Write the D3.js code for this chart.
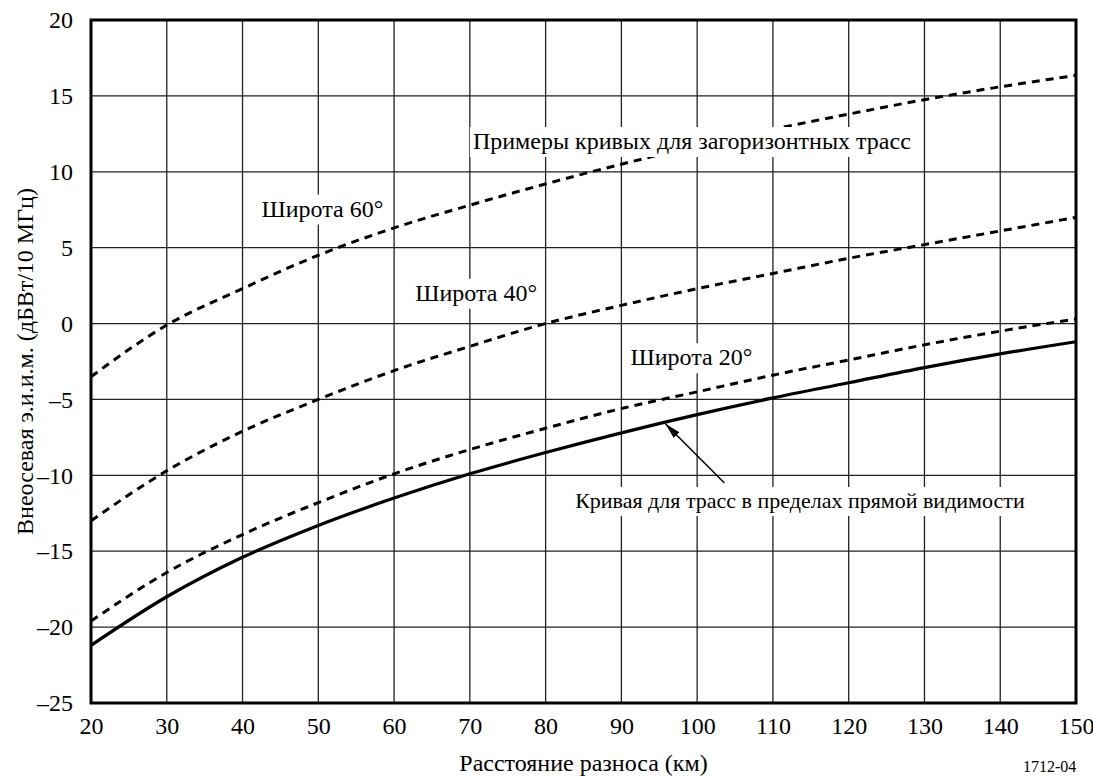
<!DOCTYPE html>
<html>
<head>
<meta charset="utf-8">
<script src="https://d3js.org/d3.v7.min.js"></script>
<style>
  body { margin: 0; background: #fff; }
</style>
</head>
<body>
<svg width="1093" height="776"></svg>
<script>
// distance (km)
var distance = [20, 30, 40, 50, 60, 70, 80, 90, 100, 110, 120, 130, 140, 150];
// off-axis e.i.r.p. (dBW/10 MHz)
var lat60 = [-3.5, -0.1, 2.3, 4.5, 6.3, 7.8, 9.2, 10.5, 11.7, 12.8, 13.8, 14.75, 15.6, 16.35];
var lat40 = [-13.0, -9.7, -7.1, -5.0, -3.1, -1.5, 0.0, 1.2, 2.3, 3.3, 4.3, 5.2, 6.1, 7.0];
var lat20 = [-19.6, -16.4, -13.9, -11.8, -9.9, -8.3, -6.9, -5.6, -4.5, -3.4, -2.4, -1.4, -0.5, 0.3];
var los = [-21.2, -18.0, -15.4, -13.3, -11.5, -9.9, -8.5, -7.2, -6.0, -4.9, -3.9, -2.9, -2.0, -1.2];

var xTicks = [20, 30, 40, 50, 60, 70, 80, 90, 100, 110, 120, 130, 140, 150];
var yTicks = [-25, -20, -15, -10, -5, 0, 5, 10, 15, 20];

var FONT = '"Liberation Serif", "Times New Roman", Times, "DejaVu Serif", serif';

var svg = d3.select("svg");
var margin = {top: 20, right: 17, bottom: 73, left: 91};
var width = 1093 - margin.left - margin.right,
    height = 776 - margin.top - margin.bottom;

var x = d3.scaleLinear().domain([20, 150]).range([margin.left, margin.left + width]);
var y = d3.scaleLinear().domain([-25, 20]).range([margin.top + height, margin.top]);

// grid
var grid = svg.append("g");
grid.selectAll(".vx").data(xTicks.slice(1, -1)).enter().append("line")
    .attr("x1", function(d) { return x(d); }).attr("x2", function(d) { return x(d); })
    .attr("y1", y(-25)).attr("y2", y(20))
    .attr("stroke", "#222").attr("stroke-width", 1.3);
grid.selectAll(".hy").data(yTicks.slice(1, -1)).enter().append("line")
    .attr("y1", function(d) { return y(d); }).attr("y2", function(d) { return y(d); })
    .attr("x1", x(20)).attr("x2", x(150))
    .attr("stroke", "#222").attr("stroke-width", 1.3);

// axes (labels only)
var xAxis = svg.append("g")
    .attr("transform", "translate(0," + y(-25) + ")")
    .call(d3.axisBottom(x).tickValues(xTicks).tickSize(0).tickPadding(14));
var yAxis = svg.append("g")
    .attr("transform", "translate(" + x(20) + ",0)")
    .call(d3.axisLeft(y).tickValues(yTicks).tickSize(0).tickPadding(18)
      .tickFormat(function(d) { return d < 0 ? "\u2013" + Math.abs(d) : d; }));
[xAxis, yAxis].forEach(function(a) {
  a.attr("font-family", FONT).attr("font-size", 24);
  a.select(".domain").remove();
  a.selectAll("text").attr("fill", "#000");
});

var line = d3.line()
    .x(function(d) { return x(d[0]); })
    .y(function(d) { return y(d[1]); })
    .curve(d3.curveMonotoneX);

function pairs(vals) { return distance.map(function(d, i) { return [d, vals[i]]; }); }

var curves = svg.append("g");
[lat60, lat40, lat20].forEach(function(s) {
  curves.append("path").datum(pairs(s))
    .attr("d", line).attr("fill", "none")
    .attr("stroke", "#000").attr("stroke-width", 3)
    .attr("stroke-dasharray", "8,6");
});
curves.append("path").datum(pairs(los))
    .attr("d", line).attr("fill", "none")
    .attr("stroke", "#000").attr("stroke-width", 3.2);

// frame
svg.append("rect")
    .attr("x", x(20)).attr("y", y(20))
    .attr("width", x(150) - x(20)).attr("height", y(-25) - y(20))
    .attr("fill", "none").attr("stroke", "#000").attr("stroke-width", 3);

// arrow
svg.append("defs").append("marker")
    .attr("id", "ah").attr("viewBox", "0 0 16 8")
    .attr("refX", 16).attr("refY", 4)
    .attr("markerWidth", 16).attr("markerHeight", 8)
    .attr("markerUnits", "userSpaceOnUse")
    .attr("orient", "auto")
  .append("path").attr("d", "M0,0 L16,4 L0,8 Z").attr("fill", "#000");

svg.append("line")
    .attr("x1", x(103.6)).attr("y1", y(-10.5))
    .attr("x2", x(95.8)).attr("y2", y(-6.6))
    .attr("stroke", "#000").attr("stroke-width", 1.5)
    .attr("marker-end", "url(#ah)");

// labels with white background
var labels = [
  {t: "Примеры кривых для загоризонтных трасс", x: 70.4, y: 11.5, s: 24},
  {t: "Широта 60°", x: 42.5, y: 7.05, s: 24},
  {t: "Широта 40°", x: 62.8, y: 1.5, s: 24},
  {t: "Широта 20°", x: 91.2, y: -2.75, s: 24},
  {t: "Кривая для трасс в пределах прямой видимости", x: 83.9, y: -12.15, s: 22}
];
var lab = svg.append("g").attr("font-family", FONT);
labels.forEach(function(l) {
  var g = lab.append("g");
  var bg = g.append("rect").attr("fill", "#fff");
  var t = g.append("text")
    .attr("x", x(l.x)).attr("y", y(l.y))
    .attr("font-size", l.s).text(l.t);
  var b = t.node().getBBox();
  bg.attr("x", b.x - 3).attr("y", b.y - 1).attr("width", b.width + 6).attr("height", b.height + 4);
});

// axis titles
var titles = svg.append("g").attr("font-family", FONT);
titles.append("text")
    .attr("x", x(85)).attr("y", 771)
    .attr("text-anchor", "middle").attr("font-size", 24)
    .text("Расстояние разноса (км)");
titles.append("text")
    .attr("transform", "translate(33," + y(-2.5) + ") rotate(-90)")
    .attr("text-anchor", "middle").attr("font-size", 24)
    .text("Внеосевая э.и.и.м. (дБВт/10 МГц)");
titles.append("text")
    .attr("x", 1023).attr("y", 772)
    .attr("font-size", 16)
    .text("1712-04");
</script>
</body>
</html>
